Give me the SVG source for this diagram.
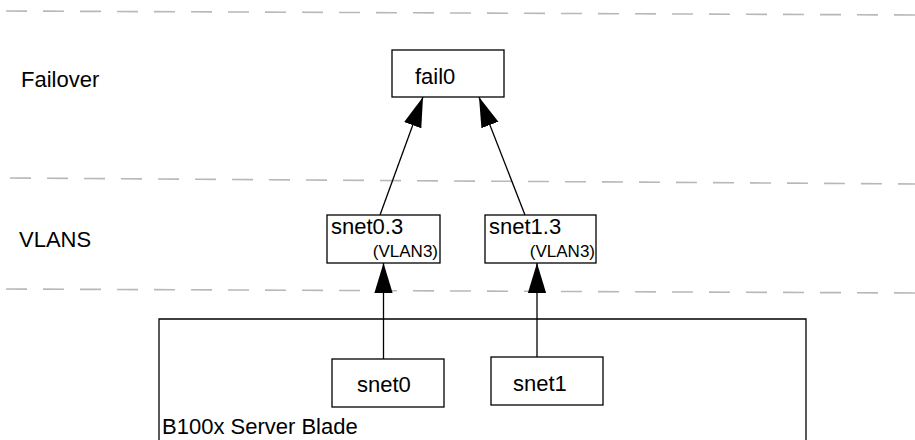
<svg xmlns="http://www.w3.org/2000/svg" width="915" height="440" viewBox="0 0 915 440">
<defs>
<style>
.sep{stroke:#b8b8b8;stroke-width:1.6;stroke-dasharray:21 16;fill:none}
.box{fill:#fff;stroke:#000;stroke-width:1.3}
.edge{stroke:#000;stroke-width:1.3;fill:none}
text{font-family:"Liberation Sans",Arial,Helvetica,sans-serif;fill:#000}
.lbl{font-size:22px}
.sub{font-size:17px}
</style>
<marker id="ah" markerUnits="userSpaceOnUse" markerWidth="30" markerHeight="20" viewBox="0 -9 28 18" refX="28" refY="0" orient="auto">
<path d="M0,-8.5 L28,0 L0,8.5 z" fill="#000"/>
</marker>
</defs>
<rect width="915" height="440" fill="#fff"/>
<g id="separators">
<line class="sep" x1="6" y1="11" x2="915" y2="15"/>
<line class="sep" x1="10" y1="178" x2="915" y2="184"/>
<line class="sep" x1="6" y1="289" x2="915" y2="293"/>
</g>
<g id="layer-labels">
<text class="lbl" x="21" y="87">Failover</text>
<text class="lbl" x="19" y="247">VLANS</text>
</g>
<g id="blade">
<path class="edge" d="M159,445 V319 H806 V445"/>
<text class="lbl" x="162" y="434">B100x Server Blade</text>
</g>
<g id="connectors">
<line class="edge" x1="380" y1="215" x2="423" y2="97" marker-end="url(#ah)"/>
<line class="edge" x1="525" y1="215" x2="479" y2="97" marker-end="url(#ah)"/>
<line class="edge" x1="383.5" y1="359" x2="383.5" y2="263" marker-end="url(#ah)"/>
<line class="edge" x1="537" y1="357" x2="537" y2="263" marker-end="url(#ah)"/>
</g>
<g id="fail0">
<rect class="box" x="392" y="50" width="112" height="47"/>
<text class="lbl" x="415" y="84">fail0</text>
</g>
<g id="snet0.3">
<rect class="box" x="327" y="215" width="113" height="48"/>
<text class="lbl" x="331" y="234">snet0.3</text>
<text class="sub" x="438" y="257" text-anchor="end">(VLAN3)</text>
</g>
<g id="snet1.3">
<rect class="box" x="485" y="215" width="111" height="48"/>
<text class="lbl" x="489" y="234">snet1.3</text>
<text class="sub" x="595" y="257" text-anchor="end">(VLAN3)</text>
</g>
<g id="snet0">
<rect class="box" x="332" y="359" width="112" height="48"/>
<text class="lbl" x="357" y="392">snet0</text>
</g>
<g id="snet1">
<rect class="box" x="491" y="357" width="112" height="48"/>
<text class="lbl" x="513" y="391">snet1</text>
</g>
</svg>
